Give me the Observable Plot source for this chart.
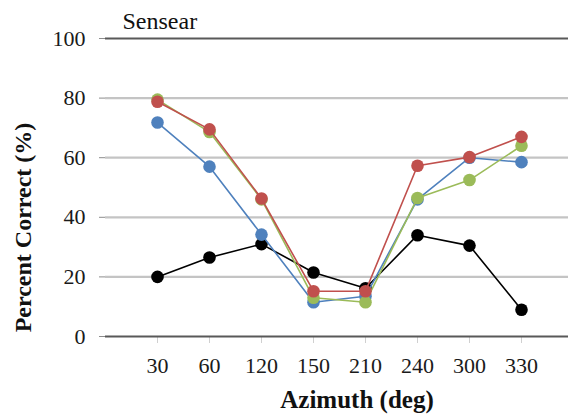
<!DOCTYPE html>
<html>
<head>
<meta charset="utf-8">
<script src="https://cdn.jsdelivr.net/npm/d3@7"></script>
<script src="https://cdn.jsdelivr.net/npm/@observablehq/plot@0.6"></script>
<style>
  html, body { margin: 0; padding: 0; background: #fff; }
  svg { display: block; }
  svg text { font-family: 'Liberation Serif', 'Times New Roman', serif; }
</style>
</head>
<body>
<div id="chart"></div>
<script>
const title = "Sensear";
const xTitle = "Azimuth (deg)";
const yTitle = "Percent Correct (%)";
const azimuths = ["30", "60", "120", "150", "210", "240", "300", "330"];
const yTicks = [0, 20, 40, 60, 80, 100];
const seriesNames = ["Series 1", "Series 2", "Series 3", "Series 4"];
const seriesColors = ["#000000", "#4F81BD", "#9BBB59", "#C0504D"];
const black = [20, 26.5, 31, 21.5, 16.2, 34, 30.5, 9];
const blue  = [71.8, 57, 34.2, 11.5, 13.5, 46, 60, 58.5];
const green = [79.5, 68.6, 46, 13, 11.5, 46.5, 52.5, 64];
const red   = [78.8, 69.5, 46.3, 15.2, 15.2, 57.3, 60.2, 67];
const seriesValues = [black, blue, green, red];

const rows = [];
seriesValues.forEach((vals, s) => {
  vals.forEach((v, i) => rows.push({series: seriesNames[s], azimuth: azimuths[i], value: v}));
});

const font = "'Liberation Serif', 'Times New Roman', serif";
const marks = [
  Plot.ruleY(yTicks.filter(d => d > 0 && d < 100), {stroke: "#c4c4c4", strokeWidth: 2.2}),
  Plot.ruleY([100], {stroke: "#595959", strokeWidth: 2.2}),
  Plot.ruleX([0], {x: () => 105, y1: 0, y2: 100, stroke: "#8c8c8c", strokeWidth: 2}),
  Plot.axisY({ticks: yTicks, tickSize: 6, tickPadding: 14, stroke: "#8c8c8c", tickFormat: d => String(d), fontSize: 22, fontFamily: font, fill: "#1a1a1a", label: null}),
  Plot.axisX({tickSize: 7, tickPadding: 14, stroke: "#d0d0d0", fontSize: 22, fontFamily: font, fill: "#1a1a1a", label: null}),
  Plot.ruleY([0], {stroke: "#595959", strokeWidth: 2.2}),
];
seriesNames.forEach((name, s) => {
  const data = rows.filter(r => r.series === name);
  marks.push(Plot.line(data, {x: "azimuth", y: "value", stroke: seriesColors[s], strokeWidth: 1.6}));
  marks.push(Plot.dot(data, {x: "azimuth", y: "value", fill: seriesColors[s], r: 6.3, stroke: "none"}));
});
marks.push(Plot.text([title], {frameAnchor: "top-left", dx: 17, dy: -27, fontSize: 24, fontFamily: font, fill: "#111", textAnchor: "start", lineAnchor: "top"}));
marks.push(Plot.text([xTitle], {frameAnchor: "bottom", dx: 20, dy: 63, fontSize: 25, fontFamily: font, fontWeight: "bold", fill: "#111", textAnchor: "middle", lineAnchor: "middle"}));
marks.push(Plot.text([yTitle], {frameAnchor: "left", dx: -82, dy: 40, rotate: -90, fontSize: 24, fontFamily: font, fontWeight: "bold", fill: "#111", textAnchor: "middle", lineAnchor: "middle", style: "letter-spacing: 2.4px"}));

const chart = Plot.plot({
  width: 568,
  height: 415,
  marginTop: 38,
  marginBottom: 79,
  marginLeft: 105,
  marginRight: 0,
  style: {fontFamily: font, background: "#fff", overflow: "visible"},
  x: {type: "point", domain: azimuths, padding: 1, range: [105, 573]},
  y: {domain: [0, 100]},
  marks
});
document.getElementById("chart").appendChild(chart);
</script>
</body>
</html>
